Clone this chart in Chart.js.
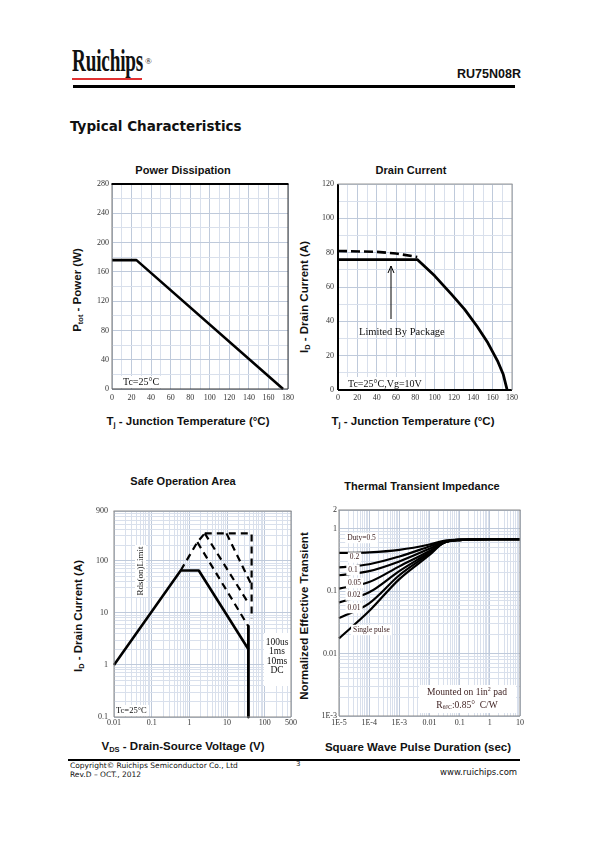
<!DOCTYPE html>
<html><head><meta charset="utf-8">
<script src="https://cdn.jsdelivr.net/npm/chart.js@4.4.1/dist/chart.umd.min.js"></script>
<style>
html,body{margin:0;padding:0;background:#fff;}
#page{position:relative;width:598px;height:842px;overflow:hidden;font-family:'Liberation Sans',Arial,sans-serif;color:#111;}
.a{position:absolute;white-space:nowrap;}
.ct{font-weight:bold;font-size:11px;transform:translate(-50%,-50%);}
.xt{font-weight:bold;font-size:11.5px;transform:translate(-50%,-50%);}
.yt{font-weight:bold;font-size:11.5px;transform:translate(-50%,-50%) rotate(-90deg);}
sub{font-size:7.5px;vertical-align:-2px;}
canvas{position:absolute;}
</style></head><body><div id="page">

<div class="a" style="left:72px;top:42px;font-family:'Liberation Serif',serif;font-weight:bold;font-size:32px;transform:scaleX(0.6);transform-origin:left top;letter-spacing:-0.3px;">Ruichips</div>
<div class="a" style="left:145px;top:56px;font-family:'Liberation Serif',serif;font-size:9px;">®</div>
<div class="a" style="left:72px;top:78px;width:70px;height:2px;background:#e03030;"></div>
<div class="a" style="left:457px;top:67px;font-weight:bold;font-size:12.5px;">RU75N08R</div>
<div class="a" style="left:73px;top:85px;width:442px;height:3px;background:#000;"></div>
<div class="a" style="left:70px;top:118px;font-family:'DejaVu Sans',sans-serif;font-weight:bold;font-size:13.5px;">Typical Characteristics</div>

<div class="a ct" style="left:183px;top:170px;">Power Dissipation</div>
<div class="a ct" style="left:411px;top:170px;">Drain Current</div>
<div class="a yt" style="left:78px;top:290px;">P<sub>tot</sub> - Power (W)</div>
<div class="a yt" style="left:305px;top:297px;">I<sub>D</sub> - Drain Current (A)</div>
<div class="a xt" style="left:188px;top:422px;">T<sub>j</sub> - Junction Temperature (°C)</div>
<div class="a xt" style="left:413px;top:422px;">T<sub>j</sub> - Junction Temperature (°C)</div>

<div class="a ct" style="left:183px;top:481px;">Safe Operation Area</div>
<div class="a ct" style="left:422px;top:486px;">Thermal Transient Impedance</div>
<div class="a yt" style="left:79px;top:616px;">I<sub>D</sub> - Drain Current (A)</div>
<div class="a yt" style="left:304px;top:616px;">Normalized Effective Transient</div>
<div class="a xt" style="left:183px;top:747px;">V<sub>DS</sub> - Drain-Source Voltage (V)</div>
<div class="a xt" style="left:418px;top:747px;">Square Wave Pulse Duration (sec)</div>

<div class="a" style="left:68px;top:759px;width:452px;height:2px;background:#000;"></div>
<div class="a" style="left:70px;top:761px;font-family:'DejaVu Sans',sans-serif;font-size:7.5px;">Copyright© Ruichips Semiconductor Co., Ltd</div>
<div class="a" style="left:70px;top:770px;font-family:'DejaVu Sans',sans-serif;font-size:7.5px;">Rev.D – OCT., 2012</div>
<div class="a" style="left:296px;top:760px;font-family:'DejaVu Sans',sans-serif;font-size:7px;">3</div>
<div class="a" style="left:440px;top:767px;font-family:'DejaVu Sans',sans-serif;font-size:8.5px;">www.ruichips.com</div>

<canvas id="c1" width="218" height="236" style="left:80px;top:174px;"></canvas>
<canvas id="c2" width="215" height="236" style="left:306px;top:174px;"></canvas>
<canvas id="c3" width="217" height="232" style="left:82px;top:500px;"></canvas>
<canvas id="c4" width="222" height="231" style="left:306px;top:500px;"></canvas>
</div>
<script>
// ================= DATA =================
// Power dissipation vs junction temperature
const powerTemp = [0, 25, 175];
const powerW    = [176, 176, 0];
const powerXLabels = [0, 20, 40, 60, 80, 100, 120, 140, 160, 180];
const powerYLabels = [0, 40, 80, 120, 160, 200, 240, 280];

// Drain current vs temperature (solid) and package-limited dashed curve
const drainTemp = [0, 82, 100, 117, 131, 144, 155, 165, 171, 175];
const drainA    = [76, 76, 66.5, 56, 47, 37, 27.5, 17, 9, 0];
const pkgTemp   = [0, 40, 60, 82];
const pkgA      = [81, 80.5, 79.5, 77.5];
const drainXLabels = [0, 20, 40, 60, 80, 100, 120, 140, 160, 180];
const drainYLabels = [0, 20, 40, 60, 80, 100, 120];

// Safe operating area (V, A)
const soaDcV    = [0.01, 0.59, 1.78, 37];
const soaDcA    = [1.0, 65, 65, 2.0];
const soaBvV    = [37, 37];
const soaBvA    = [5.5, 0.1];
const soaRdsV   = [0.59, 1.63, 2.57];
const soaRdsA   = [65, 227, 335];
const soa10msV  = [1.63, 37];
const soa10msA  = [227, 5.5];
const soa1msV   = [2.57, 39];
const soa1msA   = [335, 14.4];
const soa100usV = [9.7, 43];
const soa100usA = [335, 36.4];
const soaPeakV  = [2.57, 45, 45];
const soaPeakA  = [335, 335, 7.7];
const soaXVals  = [0.01, 0.1, 1, 10, 100, 500];
const soaXText  = ['0.01', '0.1', '1', '10', '100', '500'];
const soaYVals  = [0.1, 1, 10, 100, 900];
const soaYText  = ['0.1', '1', '10', '100', '900'];

// Thermal transient impedance
const pulseSec = [1e-5, 1e-4, 1e-3, 1e-2, 3e-2, 0.1, 1, 10];
const zDuty05  = [0.41, 0.42, 0.46, 0.56, 0.64, 0.67, 0.68, 0.68];
const zDuty02  = [0.24, 0.27, 0.36, 0.52, 0.62, 0.67, 0.68, 0.68];
const zDuty01  = [0.18, 0.21, 0.30, 0.48, 0.61, 0.67, 0.68, 0.68];
const zDuty005 = [0.11, 0.14, 0.25, 0.44, 0.60, 0.66, 0.68, 0.68];
const zDuty002 = [0.066, 0.096, 0.21, 0.42, 0.60, 0.66, 0.68, 0.68];
const zDuty001 = [0.037, 0.064, 0.18, 0.40, 0.60, 0.66, 0.68, 0.68];
const zSingle  = [0.0175, 0.048, 0.156, 0.38, 0.60, 0.66, 0.68, 0.68];
const thXVals = [1e-5, 1e-4, 1e-3, 0.01, 0.1, 1, 10];
const thXText = ['1E-5', '1E-4', '1E-3', '0.01', '0.1', '1', '10'];
const thYVals = [0.001, 0.01, 0.1, 1, 2];
const thYText = ['1E-3', '0.01', '0.1', '1', '2'];

// ================= HELPERS =================
const GRID_MAJ = '#bfcadb', GRID_MIN = '#d9e0ec';
const TICK_FONT = {family: "'Liberation Serif', serif", size: 8};
const TICK_COLOR = '#333';
const pts = (xs, ys) => xs.map((x, i) => ({x: x, y: ys[i]}));
const near = (a, b) => Math.abs(Math.log10(a) - Math.log10(b)) < 1e-6;

function linScale(axis, min, max, step, labels, fixed, pad) {
  return {
    type: 'linear', min: min, max: max,
    afterBuildTicks: s => { const t = []; for (let v = min; v <= max + 1e-9; v += step) t.push({value: v}); s.ticks = t; },
    afterFit: s => { if (axis === 'x') s.height = fixed; else s.width = fixed; },
    ticks: {autoSkip: false, maxRotation: 0, padding: pad, font: TICK_FONT, color: TICK_COLOR,
      callback: v => labels.includes(v) ? String(v) : ''},
    grid: {drawTicks: false, lineWidth: 1, color: c => (c.tick && labels.includes(c.tick.value)) ? GRID_MAJ : GRID_MIN},
    border: {display: false}
  };
}
function logTicks(min, max) {
  const out = []; const e0 = Math.floor(Math.log10(min) + 1e-9), e1 = Math.ceil(Math.log10(max));
  for (let e = e0; e <= e1; e++) for (let m = 1; m <= 9; m++) {
    const v = parseFloat((m * Math.pow(10, e)).toPrecision(6));
    if (v >= min * (1 - 1e-9) && v <= max * (1 + 1e-9)) out.push({value: v});
  }
  return out;
}
function logScale(axis, min, max, vals, texts, fixed, pad) {
  return {
    type: 'logarithmic', min: min, max: max,
    afterBuildTicks: s => { s.ticks = logTicks(min, max); },
    afterFit: s => { if (axis === 'x') s.height = fixed; else s.width = fixed; },
    ticks: {autoSkip: false, maxRotation: 0, padding: pad, font: TICK_FONT, color: TICK_COLOR,
      callback: v => { const i = vals.findIndex(l => near(l, v)); return i >= 0 ? texts[i] : ''; }},
    grid: {drawTicks: false, lineWidth: 1, color: c => (c.tick && vals.some(l => near(l, c.tick.value))) ? GRID_MAJ : GRID_MIN},
    border: {display: false}
  };
}
function framePlugin(f) {
  return {id: 'frame', afterDraw(chart) {
    const {left, right, top, bottom} = chart.chartArea; const c = chart.ctx;
    const side = (x1, y1, x2, y2, s) => { if (!s) return; c.save(); c.strokeStyle = s[0]; c.lineWidth = s[1]; c.beginPath(); c.moveTo(x1, y1); c.lineTo(x2, y2); c.stroke(); c.restore(); };
    side(left, bottom, right, bottom, f.bottom); side(right, top, right, bottom, f.right);
    side(left, top, left, bottom, f.left); side(left - 0.5, top, right + 0.5, top, f.top);
  }};
}
function annotPlugin(fn) { return {id: 'annot', afterDatasetsDraw(chart) { const c = chart.ctx; c.save(); fn(c, chart.chartArea, chart); c.restore(); }}; }
function label(c, text, x, y, size, opts) {
  opts = opts || {};
  c.save();
  c.font = (opts.bold ? 'bold ' : '') + size + "px 'Liberation Serif', serif";
  c.textBaseline = 'middle'; c.textAlign = opts.align || 'left';
  const w = c.measureText(text).width;
  if (opts.bg) {
    const lx = opts.align === 'center' ? x - w / 2 : x;
    c.fillStyle = '#fff'; c.fillRect(lx - 2, y - size / 2 - 1.5, w + 4, size + 3);
  }
  c.fillStyle = opts.color || '#111'; c.fillText(text, x, y);
  c.restore();
  return w;
}
function whiteBox(c, x, y, w, h) { c.fillStyle = '#fff'; c.fillRect(x, y, w, h); }
function lineDs(data, opts) {
  return Object.assign({data: data, borderColor: '#000', borderWidth: 2.6, pointRadius: 0, fill: false, tension: 0, clip: 4, borderCapStyle: 'butt', borderJoinStyle: 'round'}, opts || {});
}
function base(scales, padding) {
  return {responsive: false, animation: false, events: [], layout: {padding: padding},
    plugins: {legend: {display: false}, tooltip: {enabled: false}}, scales: scales};
}

// ================= CHART 1: Power dissipation =================
new Chart(document.getElementById('c1'), {
  type: 'line',
  data: {datasets: [lineDs(pts(powerTemp, powerW))]},
  options: base({
    x: linScale('x', 0, 180, 10, powerXLabels, 21, 4),
    y: linScale('y', 0, 280, 20, powerYLabels, 32, 3)
  }, {top: 10, right: 8, left: 0, bottom: 0}),
  plugins: [annotPlugin((c, a) => {
    whiteBox(c, a.left + 1, a.bottom - 13, 48, 12);
    label(c, 'Tc=25°C', a.left + 11, a.bottom - 6.5, 10);
  }), framePlugin({top: ['#000', 1.8], left: ['#777', 1], right: ['#333', 1], bottom: ['#333', 1]})]
});

// ================= CHART 2: Drain current =================
new Chart(document.getElementById('c2'), {
  type: 'line',
  data: {datasets: [
    lineDs(pts(drainTemp, drainA), {borderWidth: 2.8}),
    lineDs(pts(pkgTemp, pkgA), {borderWidth: 2.6, borderDash: [9, 4]})
  ]},
  options: base({
    x: linScale('x', 0, 180, 10, drainXLabels, 20, 3),
    y: linScale('y', 0, 120, 10, drainYLabels, 32, 4)
  }, {top: 10, right: 8, left: 0, bottom: 0}),
  plugins: [annotPlugin((c, a) => {
    const ax = a.left + 53;
    c.strokeStyle = '#000'; c.lineWidth = 1;
    c.beginPath(); c.moveTo(ax, a.top + 135); c.lineTo(ax, a.top + 82); c.stroke();
    c.beginPath(); c.moveTo(ax - 3, a.top + 89); c.lineTo(ax, a.top + 82); c.lineTo(ax + 3, a.top + 89); c.stroke();
    label(c, 'Limited By Package', a.left + 21, a.top + 148, 10.5);
    whiteBox(c, a.left + 2, a.bottom - 13, 84, 12);
    label(c, 'Tc=25°C,Vg=10V', a.left + 10, a.bottom - 6, 10);
  }), framePlugin({top: ['#999', 1], left: ['#000', 2], right: ['#999', 1], bottom: ['#000', 2]})]
});

// ================= CHART 3: Safe operating area =================
const dash = {borderDash: [7, 5], borderWidth: 2.2};
new Chart(document.getElementById('c3'), {
  type: 'line',
  data: {datasets: [
    lineDs(pts(soaDcV, soaDcA)),
    lineDs(pts(soaBvV, soaBvA), {borderWidth: 2.8}),
    lineDs(pts(soaRdsV, soaRdsA), dash),
    lineDs(pts(soa10msV, soa10msA), dash),
    lineDs(pts(soa1msV, soa1msA), dash),
    lineDs(pts(soa100usV, soa100usA), dash),
    lineDs(pts(soaPeakV, soaPeakA), dash)
  ]},
  options: base({
    x: logScale('x', 0.01, 500, soaXVals, soaXText, 15, 1),
    y: logScale('y', 0.1, 900, soaYVals, soaYText, 32, 6)
  }, {top: 11, right: 8, left: 0, bottom: 0}),
  plugins: [annotPlugin((c, a) => {
    whiteBox(c, a.left + 21, a.top + 34, 11, 52);
    c.save(); c.translate(a.left + 26.5, a.top + 60); c.rotate(-Math.PI / 2);
    label(c, 'Rds(on)Limit', 0, 0, 9, {align: 'center'});
    c.restore();
    whiteBox(c, a.right - 27, a.top + 122, 27, 53);
    const cx = a.right - 14;
    label(c, '100us', cx, a.top + 131, 9.5, {align: 'center'});
    label(c, '1ms', cx, a.top + 140.5, 9.5, {align: 'center'});
    label(c, '10ms', cx, a.top + 150, 9.5, {align: 'center'});
    label(c, 'DC', cx, a.top + 159, 9.5, {align: 'center'});
    whiteBox(c, a.left + 1, a.bottom - 12, 34, 11);
    label(c, 'Tc=25°C', a.left + 2, a.bottom - 6, 8.5);
  }), framePlugin({top: ['#888', 1], left: ['#888', 1], right: ['#888', 1], bottom: ['#888', 1]})]
});

// ================= CHART 4: Thermal transient impedance =================
const th = {borderWidth: 2.2, cubicInterpolationMode: 'monotone'};
new Chart(document.getElementById('c4'), {
  type: 'line',
  data: {datasets: [
    lineDs(pts(pulseSec, zDuty05), th),
    lineDs(pts(pulseSec, zDuty02), th),
    lineDs(pts(pulseSec, zDuty01), th),
    lineDs(pts(pulseSec, zDuty005), th),
    lineDs(pts(pulseSec, zDuty002), th),
    lineDs(pts(pulseSec, zDuty001), th),
    lineDs(pts(pulseSec, zSingle), th)
  ]},
  options: base({
    x: logScale('x', 1e-5, 10, thXVals, thXText, 15, 2),
    y: logScale('y', 0.001, 2, thYVals, thYText, 33, 2)
  }, {top: 10, right: 8, left: 0, bottom: 0}),
  plugins: [annotPlugin((c, a) => {
    const col = '#3a1c1c';
    label(c, 'Duty=0.5', a.left + 22.5, a.top + 28, 7.5, {align: 'center', bg: true, color: col});
    label(c, '0.2', a.left + 15.5, a.top + 47.5, 7.5, {align: 'center', bg: true, color: col});
    label(c, '0.1', a.left + 14, a.top + 60, 7.5, {align: 'center', bg: true, color: col});
    label(c, '0.05', a.left + 15.5, a.top + 73, 7.5, {align: 'center', bg: true, color: col});
    label(c, '0.02', a.left + 15, a.top + 85.5, 7.5, {align: 'center', bg: true, color: col});
    label(c, '0.01', a.left + 15, a.top + 98, 7.5, {align: 'center', bg: true, color: col});
    label(c, 'Single pulse', a.left + 32.5, a.top + 120, 7.5, {align: 'center', bg: true, color: col});
    whiteBox(c, a.left + 80, a.top + 175, a.right - a.left - 84, 28);
    const cx = a.left + 128, y1 = a.top + 182.5, y2 = a.top + 195;
    c.font = "9.5px 'Liberation Serif', serif"; c.textBaseline = 'middle';
    const t1 = 'Mounted on 1in', t2 = ' pad';
    const w1 = c.measureText(t1).width, w2 = c.measureText(t2).width;
    c.font = "6px 'Liberation Serif', serif"; const ws = c.measureText('2').width;
    let x0 = cx - (w1 + ws + w2) / 2;
    c.fillStyle = col; c.textAlign = 'left';
    c.font = "9.5px 'Liberation Serif', serif"; c.fillText(t1, x0, y1);
    c.font = "6px 'Liberation Serif', serif"; c.fillText('2', x0 + w1, y1 - 3);
    c.font = "9.5px 'Liberation Serif', serif"; c.fillText(t2, x0 + w1 + ws, y1);
    c.font = "9.5px 'Liberation Serif', serif"; const wr = c.measureText('R').width;
    c.font = "6px 'Liberation Serif', serif"; const wsub = c.measureText('θJC').width;
    c.font = "9.5px 'Liberation Serif', serif"; const wt = c.measureText(':0.85°  C/W').width;
    x0 = cx - (wr + wsub + wt) / 2;
    c.fillText('R', x0, y2);
    c.font = "6px 'Liberation Serif', serif"; c.fillText('θJC', x0 + wr, y2 + 2.5);
    c.font = "9.5px 'Liberation Serif', serif"; c.fillText(':0.85°  C/W', x0 + wr + wsub, y2);
  }), framePlugin({top: ['#888', 1], left: ['#888', 1], right: ['#888', 1], bottom: ['#888', 1]})]
});
</script>
</body></html>
